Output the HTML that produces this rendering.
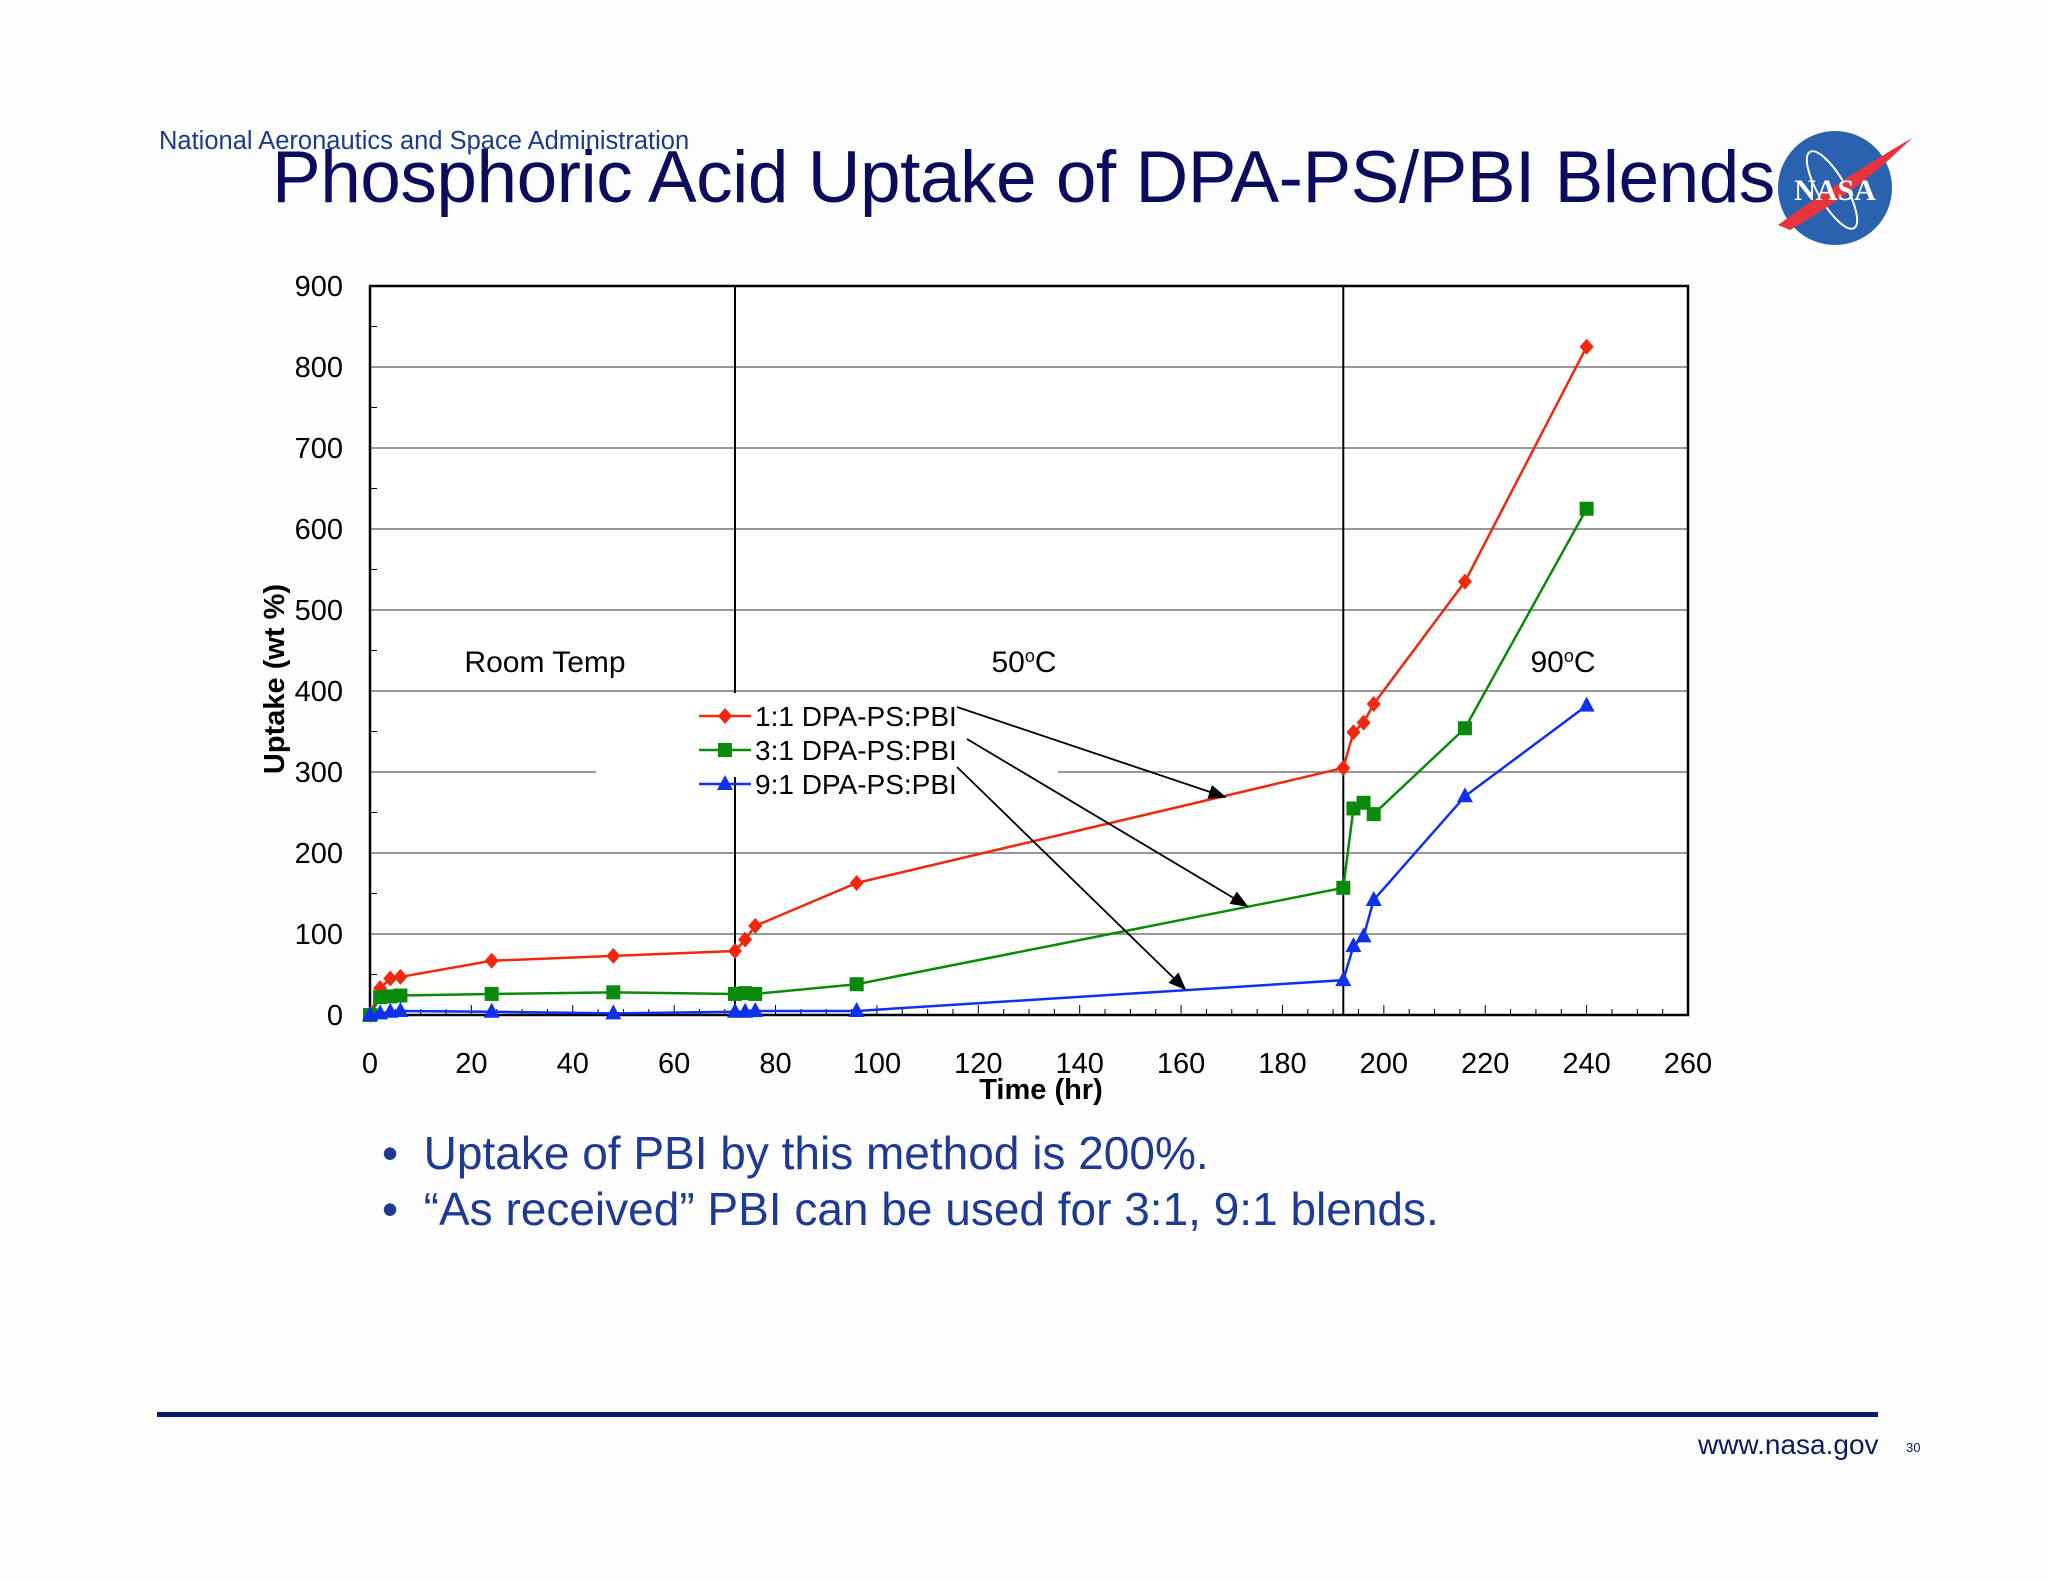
<!DOCTYPE html>
<html><head><meta charset="utf-8"><style>
html,body{margin:0;padding:0;background:#fdfdfd;}
body{width:2048px;height:1582px;position:relative;overflow:hidden;font-family:"Liberation Sans",sans-serif;}
.abs{position:absolute;white-space:nowrap;}
</style></head><body>
<div class="abs" style="left:159px;top:127px;font-size:25.5px;color:#1a3a8c;">National Aeronautics and Space Administration</div>
<div class="abs" style="left:272px;top:136px;font-size:73px;color:#0c0c5e;letter-spacing:-0.5px;">Phosphoric Acid Uptake of DPA-PS/PBI Blends</div>
<svg class="abs" style="left:1770px;top:120px" width="150" height="140" viewBox="0 0 150 140">
 <circle cx="65" cy="68" r="57" fill="#2a62b0"/>
 <ellipse cx="62" cy="70" rx="14" ry="44" transform="rotate(-30 62 70)" fill="none" stroke="#fff" stroke-width="2"/>
 <path d="M8 105 Q70 60 142 18 Q90 70 20 110 Z" fill="#e8343a"/>
 <text x="65" y="80" text-anchor="middle" font-family="Liberation Serif" font-weight="bold" font-size="30" fill="#fff">NASA</text>
</svg>
<svg class="abs" id="chart" style="left:0;top:0" width="2048" height="1582"></svg>
<div class="abs" style="left:382px;top:1126px;font-size:46px;color:#1f3a93;">•&nbsp;&nbsp;Uptake of PBI by this method is 200%.</div>
<div class="abs" style="left:382px;top:1182px;font-size:46px;color:#1f3a93;">•&nbsp;&nbsp;“As received” PBI can be used for 3:1, 9:1 blends.</div>
<div class="abs" style="left:157px;top:1412px;width:1721px;height:5px;background:#0c1a6e;"></div>
<div class="abs" style="left:1698px;top:1429px;font-size:28px;color:#0c1a5e;">www.nasa.gov</div>
<div class="abs" style="left:1906px;top:1440px;font-size:13px;color:#0c1a5e;">30</div>
<script>
const times=[0,2,4,6,24,48,72,74,76,96,192,194,196,198,216,240];
const s11=[0,33,45,47,67,73,79,93,110,163,305,349,361,384,535,825];
const s31=[0,22,23,24,26,28,26,27,26,38,157,255,262,248,354,625];
const s91=[0,2,4,5,4,2,4,4,5,5,43,85,97,142,270,382];
const xTicks=[0,20,40,60,80,100,120,140,160,180,200,220,240,260];
const yTicks=[0,100,200,300,400,500,600,700,800,900];
const L=370,R=1688,T=286,B=1015;
const X=v=>L+(v/260)*(R-L), Y=v=>B-(v/900)*(B-T);
const NS="http://www.w3.org/2000/svg", svg=document.getElementById('chart');
function mk(t,a,p){const e=document.createElementNS(NS,t);for(const k in a)e.setAttribute(k,a[k]);(p||svg).appendChild(e);return e;}
mk('rect',{x:L,y:T,width:R-L,height:B-T,fill:'#fff'});
yTicks.forEach(v=>{if(v>0&&v<900){const g=mk('line',{x1:L,x2:R,y1:Y(v),y2:Y(v),stroke:'#777','stroke-width':1.5});

}
const t=mk('text',{x:343,y:Y(v)+10,'text-anchor':'end','font-size':29,fill:'#000'});t.textContent=v;

});
for(let v=50;v<900;v+=100)mk('line',{x1:L,x2:L+7,y1:Y(v),y2:Y(v),stroke:'#000','stroke-width':1});
for(let v=5;v<260;v+=5)mk('line',{x1:X(v),x2:X(v),y1:B,y2:B-(v%20==0?10:6),stroke:'#000','stroke-width':1});
xTicks.forEach(v=>{const t=mk('text',{x:X(v),y:1073,'text-anchor':'middle','font-size':29,fill:'#000'});t.textContent=v;

});
[72,192].forEach(v=>{const l=mk('line',{x1:X(v),x2:X(v),y1:T,y2:B,stroke:'#000','stroke-width':2});

});
const lb=mk('rect',{x:596,y:693,width:462,height:84,fill:'#fff'});


mk('rect',{x:L,y:T,width:R-L,height:B-T,fill:'none',stroke:'#000','stroke-width':2.5});
[['Room Temp',545],['50oC',1024],['90oC',1563]].forEach(([s,x])=>{const t=mk('text',{x:x,y:672,'text-anchor':'middle','font-size':30});
if(s.includes('oC')){t.innerHTML=s.slice(0,-2)+'<tspan dy="-10" font-size="18">o</tspan><tspan dy="10">C</tspan>';}else t.textContent=s;

});
const ax=mk('text',{x:1041,y:1099,'text-anchor':'middle','font-size':29,'font-weight':'bold'});ax.textContent='Time (hr)';


const ay=mk('text',{x:0,y:0,'text-anchor':'middle','font-size':29,'font-weight':'bold',transform:'translate(284,679) rotate(-90)'});ay.textContent='Uptake (wt %)';


function marker(kind,x,y,c,g){if(kind=='d')mk('polygon',{points:`${x},${y-8} ${x+7},${y} ${x},${y+8} ${x-7},${y}`,fill:c},g);
else if(kind=='s')mk('rect',{x:x-7,y:y-7,width:14,height:14,fill:c},g);
else mk('polygon',{points:`${x},${y-9} ${x+8},${y+6} ${x-8},${y+6}`,fill:c},g);}
const series=[[s11,'#f0280f','d','1:1 DPA-PS:PBI',716],[s31,'#0a8a0a','s','3:1 DPA-PS:PBI',750],[s91,'#1030f0','t','9:1 DPA-PS:PBI',784]];
series.forEach(([d,c,k,name,ly])=>{const g=mk('g',{});


mk('polyline',{points:times.map((t,i)=>X(t)+','+Y(d[i])).join(' '),fill:'none',stroke:c,'stroke-width':2.5},g);
times.forEach((t,i)=>marker(k,X(t),Y(d[i]),c,g));
const le=mk('g',{});


mk('line',{x1:699,x2:751,y1:ly,y2:ly,stroke:c,'stroke-width':2.5},le);marker(k,725,ly,c,le);
const t=mk('text',{x:755,y:ly+10,'font-size':28},le);t.textContent=name;});
mk('defs',{}).innerHTML='<marker id="ah" markerWidth="10" markerHeight="8" refX="9" refY="4" orient="auto"><path d="M0,0 L10,4 L0,8 Z" fill="#000"/></marker>';
[[957,707,1225,797],[967,739,1247,906],[957,767,1185,989]].forEach(a=>{const l=mk('line',{x1:a[0],y1:a[1],x2:a[2],y2:a[3],stroke:'#000','stroke-width':1.8,'marker-end':'url(#ah)'});

});
</script>
</body></html>
